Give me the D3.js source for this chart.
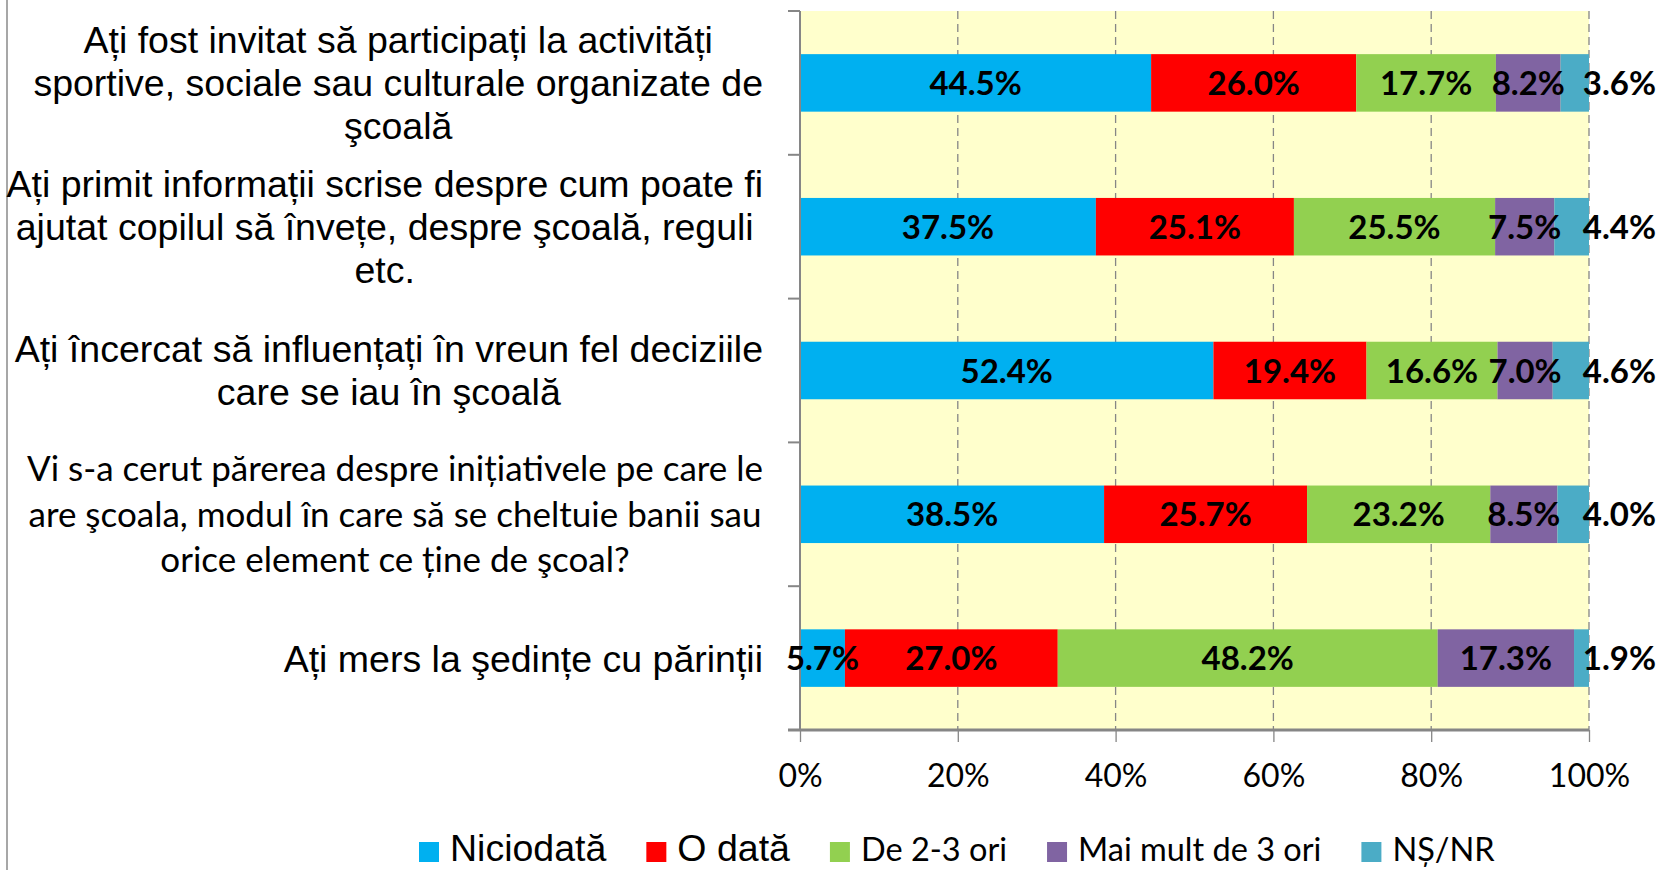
<!DOCTYPE html>
<html>
<head>
<meta charset="utf-8">
<script src="https://cdn.jsdelivr.net/npm/d3@7"></script>
<style>
  html, body { margin: 0; padding: 0; background: #fff; }
  svg { display: block; }
</style>
</head>
<body>
<div id="chart"></div>
<script>
// categories, one line break per "\n" (as wrapped in the original)
const categories = [
    "Ați fost invitat să participați la activități\nsportive, sociale sau culturale organizate de\nşcoală",
    "Ați primit informații scrise despre cum poate fi\najutat copilul să învețe, despre şcoală, reguli\netc.",
    "Ați încercat să influențați în vreun fel deciziile\ncare se iau în şcoală",
    "Vi s-a cerut părerea despre inițiativele pe care le\nare şcoala, modul în care să se cheltuie banii sau\norice element ce ține de şcoal?",
    "Ați mers la şedințe cu părinții"
];
const seriesNames = ["Niciodată", "O dată", "De 2-3 ori", "Mai mult de 3 ori", "NȘ/NR"];
const niciodata = [44.5, 37.5, 52.4, 38.5, 5.7];
const oData = [26.0, 25.1, 19.4, 25.7, 27.0];
const de23 = [17.7, 25.5, 16.6, 23.2, 48.2];
const maiMult = [8.2, 7.5, 7.0, 8.5, 17.3];
const nsnr = [3.6, 4.4, 4.6, 4.0, 1.9];
const xTicks = [0, 0.2, 0.4, 0.6, 0.8, 1];
const colors = ["#00B0F0", "#FF0000", "#92D050", "#8064A2", "#4BACC6"];

const width = 1661, height = 870;
const plot = { left: 800, right: 1589, top: 11, bottom: 730 };
const arialFont = "'Liberation Sans', Arial, sans-serif";
const calibriFont = "Lato, 'Open Sans', sans-serif";

const svg = d3.select("#chart").append("svg")
    .attr("width", width)
    .attr("height", height);

const seriesValues = [niciodata, oData, de23, maiMult, nsnr];
const rows = categories.map((c, i) => {
    const row = { cat: c };
    seriesNames.forEach((s, j) => row[s] = seriesValues[j][i]);
    return row;
});

const stacked = d3.stack()
    .keys(seriesNames)
    .offset(d3.stackOffsetExpand)(rows);

const x = d3.scaleLinear().domain([0, 1]).range([plot.left, plot.right]);
const y = d3.scaleBand()
    .domain(categories)
    .range([plot.top, plot.bottom])
    .paddingInner(0.6)
    .paddingOuter(0.3);

// outer border on the left
svg.append("line")
    .attr("x1", 7).attr("x2", 7)
    .attr("y1", 0).attr("y2", height)
    .attr("stroke", "#8a8a8a").attr("stroke-width", 1.5);

// plot background
svg.append("rect")
    .attr("x", plot.left).attr("y", plot.top)
    .attr("width", plot.right - plot.left)
    .attr("height", plot.bottom - plot.top)
    .attr("fill", "#FFFFCC");

// dashed grid
svg.append("g")
    .selectAll("line")
    .data(xTicks.slice(1))
    .join("line")
    .attr("x1", d => x(d)).attr("x2", d => x(d))
    .attr("y1", plot.top).attr("y2", plot.bottom)
    .attr("stroke", "#868686")
    .attr("stroke-width", 1.3)
    .attr("stroke-dasharray", "8,5");

// bars
svg.append("g")
    .selectAll("g")
    .data(stacked)
    .join("g")
    .attr("fill", (d, i) => colors[i])
    .selectAll("rect")
    .data(d => d)
    .join("rect")
    .attr("x", d => x(d[0]))
    .attr("y", d => y(d.data.cat))
    .attr("width", d => x(d[1]) - x(d[0]))
    .attr("height", y.bandwidth());

// y axis (line + boundary ticks)
const yAxis = svg.append("g").attr("stroke", "#868686").attr("stroke-width", 2);
yAxis.append("line")
    .attr("x1", plot.left).attr("x2", plot.left)
    .attr("y1", plot.top).attr("y2", plot.bottom);
const bounds = categories.map(c => y(c) - y.step() * y.paddingInner() / 2)
    .map((v, i) => i === 0 ? plot.top : v);
yAxis.selectAll(".tk")
    .data(bounds)
    .join("line")
    .attr("x1", plot.left - 12).attr("x2", plot.left)
    .attr("y1", d => d).attr("y2", d => d);

// x axis
const xAxis = svg.append("g")
    .attr("transform", `translate(0,${plot.bottom})`)
    .call(d3.axisBottom(x).tickValues(xTicks).tickFormat(d3.format(".0%")).tickSize(12).tickPadding(22));
xAxis.select(".domain").remove();
xAxis.selectAll(".tick line").attr("stroke", "#868686").attr("stroke-width", 1.3);
xAxis.selectAll(".tick text")
    .attr("font-family", calibriFont)
    .attr("font-size", 32)
    .attr("fill", "#000");
svg.append("line")
    .attr("x1", plot.left - 12).attr("x2", plot.right)
    .attr("y1", plot.bottom).attr("y2", plot.bottom)
    .attr("stroke", "#868686").attr("stroke-width", 3);

// data labels
const labelG = svg.append("g")
    .attr("font-family", calibriFont)
    .attr("font-weight", "bold")
    .attr("font-size", 33)
    .attr("fill", "#000");
stacked.forEach((layer, li) => {
    const last = li === stacked.length - 1;
    labelG.selectAll(".s" + li)
        .data(layer)
        .join("text")
        .attr("class", "s" + li)
        .attr("x", d => last ? x(1) + 67 : (x(d[0]) + x(d[1])) / 2)
        .attr("y", d => y(d.data.cat) + y.bandwidth() / 2 + 12)
        .attr("text-anchor", last ? "end" : "middle")
        .text(d => d.data[layer.key].toFixed(1) + "%");
});

// category labels: right-aligned block, centred lines
const labelRight = 763;
categories.forEach((c, i) => {
    const lines = c.split("\n");
    const isCalibri = i === 3;
    const size = isCalibri ? 35 : 37.5;
    const lh = isCalibri ? 45.5 : 43;
    const cap = size * 0.716;
    const g = svg.append("g")
        .attr("font-family", isCalibri ? calibriFont : arialFont)
        .attr("font-size", size)
        .attr("fill", "#000");
    const cy = y(c) + y.bandwidth() / 2;
    const texts = g.selectAll("text")
        .data(lines)
        .join("text")
        .attr("y", (d, k) => cy + (k - (lines.length - 1) / 2) * lh + cap / 2)
        .attr("text-anchor", "middle")
        .text(d => d);
    const w = d3.max(texts.nodes(), n => n.getComputedTextLength());
    texts.attr("x", labelRight - w / 2);
});

// legend
const legend = svg.append("g").attr("transform", "translate(419,0)");
let lx = 0;
seriesNames.forEach((s, i) => {
    const isArial = i < 2;
    legend.append("rect")
        .attr("x", lx).attr("y", 842)
        .attr("width", 20).attr("height", 20)
        .attr("fill", colors[i]);
    const t = legend.append("text")
        .attr("x", lx + 31).attr("y", 861)
        .attr("font-family", isArial ? arialFont : calibriFont)
        .attr("font-size", isArial ? 37.5 : 32.5)
        .attr("fill", "#000")
        .text(s);
    lx += 31 + t.node().getComputedTextLength() + 40;
});
</script>
</body>
</html>
